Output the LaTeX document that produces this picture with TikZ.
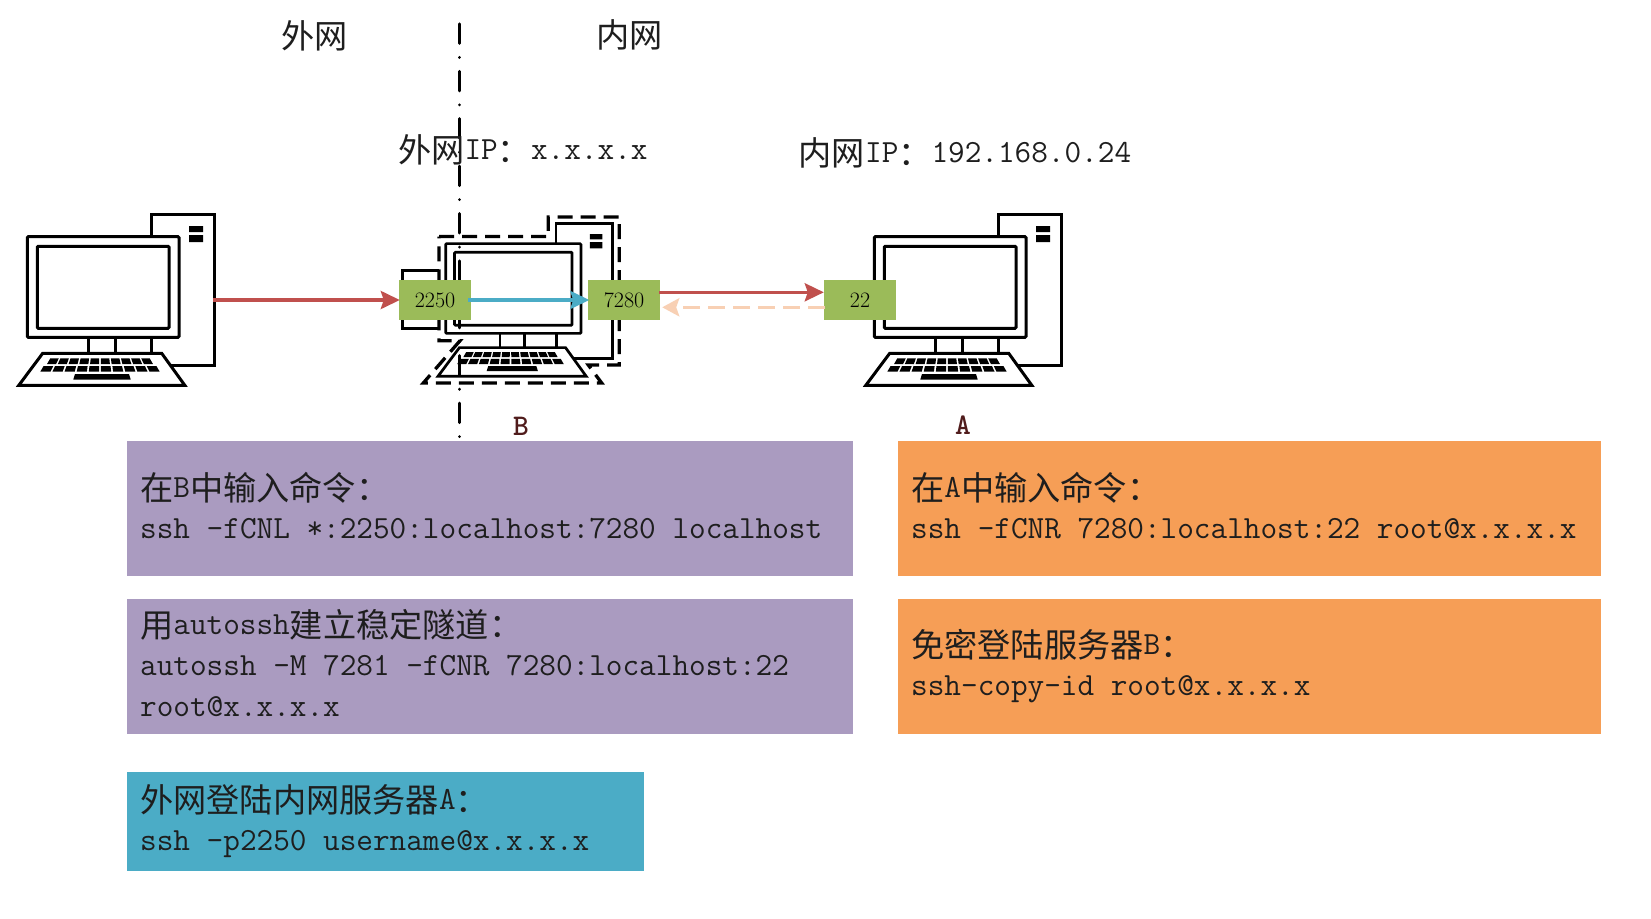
\documentclass[tikz,border=0pt]{standalone}
\usepackage{fontspec}
\usetikzlibrary{arrows.meta,calc}
\newfontfamily\cjk[Scale=1.028]{Noto Sans CJK SC}
\newcommand\zh[1]{\raisebox{-3pt}{\cjk #1}}
\definecolor{cPurple}{RGB}{170,155,192}
\definecolor{cOrange}{RGB}{246,158,86}
\definecolor{cTeal}{RGB}{75,172,198}
\definecolor{cGreen}{RGB}{155,187,89}
\definecolor{cRed}{RGB}{192,80,77}
\definecolor{cPeach}{RGB}{248,208,180}
\definecolor{cBrown}{RGB}{80,28,28}
\definecolor{cInk}{RGB}{30,30,30}
\tikzset{
  x=1pt,y=-1pt,
  txt/.style={font=\fontsize{32.3}{41}\selectfont\ttfamily,text=cInk,inner sep=0pt},
  port/.style={fill=cGreen,minimum width=72pt,minimum height=40pt,inner sep=0pt,
    font=\fontsize{22}{22}\selectfont\rmfamily,text=black},
  tag/.style={font=\fontsize{30}{30}\selectfont\ttfamily\bfseries,text=cBrown,inner sep=0pt},
  wire/.style={line width=3.4pt},
  tipA/.style={-{Stealth[length=19pt,width=18pt,inset=3pt]}},
  computer/.pic={
    \draw[pic actions,fill=white] (151,214) rectangle (214.7,365.3);
    \fill[black] (189,226) rectangle (203,232) (189,235) rectangle (203,242);
    \draw[pic actions,fill=white,rounded corners=1pt] (27.3,236.7) rectangle (179,337.3);
    \draw[pic actions,rounded corners=1pt] (37.3,246.3) rectangle (169,328.3);
    \draw[pic actions] (88.3,337.3) -- (88.3,353.3) (115.3,337.3) -- (115.3,353.3) (151.3,337.3) -- (151.3,353.3);
    \draw[pic actions,fill=white,line join=miter] (42.7,353.3) -- (161.7,353.3) -- (184.8,385.3) -- (18.8,385.3) -- cycle;
    \foreach \i in {0,...,9}{
      \fill[black] ({100+(-1+2*(\i+.08)/10)*50.5},358.3) -- ({100+(-1+2*(\i+.92)/10)*50.5},358.3)
        -- ({100+(-1+2*(\i+.92)/10)*53.8},364) -- ({100+(-1+2*(\i+.08)/10)*53.8},364) -- cycle;
      \fill[black] ({100+(-1+2*(\i+.08)/10)*57.3},366) -- ({100+(-1+2*(\i+.92)/10)*57.3},366)
        -- ({100+(-1+2*(\i+.92)/10)*60.7},371.7) -- ({100+(-1+2*(\i+.08)/10)*60.7},371.7) -- cycle;
    }
    \fill[black] (75,374) -- (129,374) -- (130.7,379.5) -- (73.3,379.5) -- cycle;
  }
}
\begin{document}
\begin{tikzpicture}
\useasboundingbox (0,0) rectangle (1651,918);
\fill[white] (0,0) rectangle (1651,918);

% computers
\pic[line width=3pt] (pcL) at (0,0) {computer};
\pic[line width=2.7pt,scale=.892] (pcB) at (421.3,32.5) {computer};
\pic[line width=3pt] (pcA) at (847,0) {computer};

% boundary of B
\draw[line width=3.3pt,dash pattern=on 15pt off 8pt]
  (439,236.5) -- (548.3,236.5) -- (548.3,217) -- (619.3,217) -- (619.3,365) -- (588.3,365)
  -- (601.7,383) -- (423.3,383) -- (460,340.7) -- (439,340.7) -- cycle;
\draw[line width=3pt] (439.3,270) -- (402.7,270) -- (402.7,328.3) -- (439.3,328.3);

% network divide
\coordinate (divTop) at (459,23.4);
\coordinate (divEnd) at (459,438);
\draw[line width=3pt,line cap=round,dash pattern=on 19.5pt off 14pt on 0.1pt off 13.8pt] ($(divTop)+(0,0.5)$) -- (divEnd);

% ports
\node[port] (p2250) at (435,300) {2250};
\node[port] (p7280) at (624,300) {7280};
\node[port] (p22) at (860,300) {22};

% links
\coordinate (towerL) at (213,300);
\draw[wire,cRed,tipA] (towerL) -- ($(p2250.west)+(1,0)$);
\draw[wire,cTeal,tipA] ($(p2250.east)+(-3,0)$) -- ($(p7280.west)+(1.5,0)$);
\draw[wire,cRed,tipA] ($(p7280.east)+(-1,-7.7)$) -- ($(p22.west)+(0,-7.7)$);
\draw[wire,cPeach,dash pattern=on 17pt off 8pt,-{Stealth[length=17pt,width=18pt,inset=3pt]}] ($(p22.west)+(1,7.3)$) -- ($(p7280.east)+(2,7.3)$);

% headings
\node[txt] (hOut) at (314.7,35.8) {\zh{外网}};
\node[txt] (hIn) at (629.5,35) {\zh{内网}};
\node[txt,anchor=west] (ipOut) at (398,150) {\zh{外网}IP\zh{：}x.x.x.x};
\node[txt,anchor=west] (ipIn) at (798.5,152.6) {\zh{内网}IP\zh{：}192.168.0.24};
\node[tag] (tagB) at (521,426) {B};
\node[tag] (tagA) at (963,425) {A};

% command boxes
\fill[cPurple] (127.4,441) rectangle (852.7,576);
\fill[cOrange] (898,441) rectangle (1601,576);
\fill[cPurple] (127.4,599) rectangle (852.7,734);
\fill[cOrange] (898,599) rectangle (1601,734);
\fill[cTeal] (127.4,772) rectangle (644,871);

\node[txt,anchor=west,align=left] (cmdB) at (140,505.5) {\zh{在}B\zh{中输入命令：}\\ssh -fCNL *:2250:localhost:7280 localhost};
\node[txt,anchor=west,align=left] (cmdA) at (911,505.5) {\zh{在}A\zh{中输入命令：}\\ssh -fCNR 7280:localhost:22 root@x.x.x.x};
\node[txt,anchor=west,align=left] (cmdAuto) at (140,663.5) {\zh{用}autossh\zh{建立稳定隧道：}\\autossh -M 7281 -fCNR 7280:localhost:22\\root@x.x.x.x};
\node[txt,anchor=west,align=left] (cmdCopy) at (911,666) {\zh{免密登陆服务器}B\zh{：}\\ssh-copy-id root@x.x.x.x};
\node[txt,anchor=west,align=left] (cmdLogin) at (140,821.5) {\zh{外网登陆内网服务器}A\zh{：}\\ssh -p2250 username@x.x.x.x};
\end{tikzpicture}
\end{document}
